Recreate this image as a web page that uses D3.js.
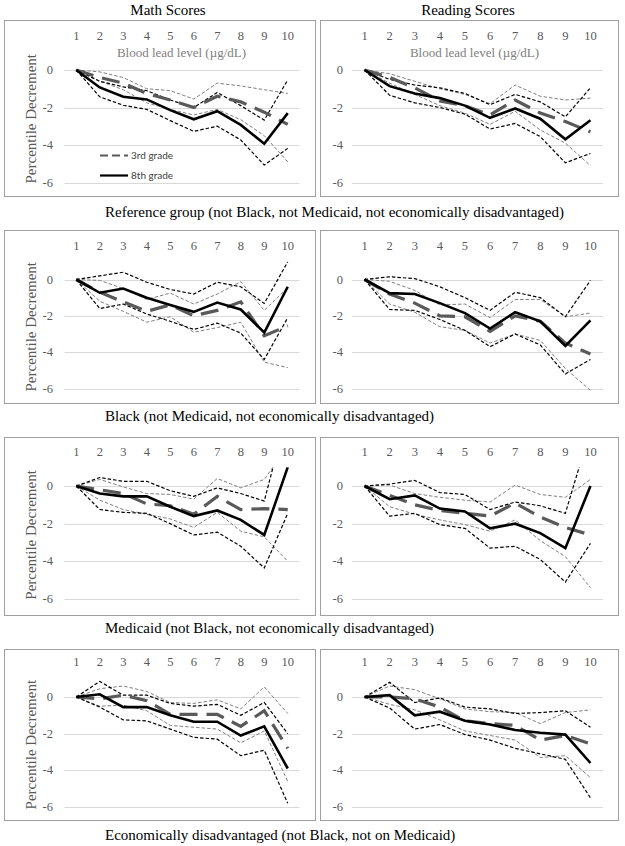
<!DOCTYPE html>
<html>
<head>
<meta charset="utf-8">
<script src="https://cdn.jsdelivr.net/npm/d3@7/dist/d3.min.js"></script>
<style>
  html, body { margin: 0; padding: 0; background: #fff; }
  svg { display: block; }
</style>
</head>
<body>
<svg id="chart" width="625" height="846"></svg>
<script>
// ---------- DATA ----------
const categories = [1, 2, 3, 4, 5, 6, 7, 8, 9, 10];
const yTicks = [0, -2, -4, -6];
const columnTitles = ["Math Scores", "Reading Scores"];
const xAxisTitle = "Blood lead level (\u00b5g/dL)";
const yAxisTitle = "Percentile Decrement";
const legendLabels = ["3rd grade", "8th grade"];
const groupCaptions = [
  "Reference group (not Black, not Medicaid, not economically disadvantaged)",
  "Black (not Medicaid, not economically disadvantaged)",
  "Medicaid (not Black, not economically disadvantaged)",
  "Economically disadvantaged (not Black, not on Medicaid)"
];

// Reference group - Math
const mathRef_g3    = [0, -0.4, -0.7, -1.25, -1.6, -2.0, -1.4, -1.7, -2.25, -2.9];
const mathRef_g3_hi = [0, -0.1, -0.4, -1.0, -1.1, -1.55, -0.7, -0.85, -1.05, -1.25];
const mathRef_g3_lo = [0, -0.6, -1.05, -1.75, -2.1, -2.4, -2.1, -2.65, -3.5, -4.9];
const mathRef_g8    = [0, -0.93, -1.43, -1.57, -2.14, -2.63, -2.2, -2.93, -3.93, -2.3];
const mathRef_g8_hi = [0, -0.6, -0.9, -1.1, -1.6, -2.0, -1.2, -1.9, -2.67, -0.53];
const mathRef_g8_lo = [0, -1.43, -1.88, -2.1, -2.7, -3.27, -3.0, -3.73, -5.07, -4.18];
// Reference group - Reading
const readRef_g3    = [0, -0.4, -0.95, -1.65, -1.9, -2.4, -1.6, -2.3, -2.75, -3.3];
const readRef_g3_hi = [0, -0.2, -0.6, -1.0, -1.3, -1.8, -0.8, -1.4, -1.6, -1.5];
const readRef_g3_lo = [0, -0.7, -1.3, -1.9, -2.3, -2.9, -2.2, -3.2, -3.9, -5.1];
const readRef_g8    = [0, -0.86, -1.25, -1.5, -1.9, -2.55, -2.05, -2.6, -3.7, -2.68];
const readRef_g8_hi = [0, -0.5, -0.8, -0.95, -1.25, -1.85, -1.3, -1.7, -2.5, -0.95];
const readRef_g8_lo = [0, -1.35, -1.75, -2.0, -2.35, -3.15, -2.85, -3.55, -4.95, -4.45];
// Black - Math
const mathBlk_g3    = [0, -0.7, -1.23, -1.75, -1.4, -2.0, -1.7, -1.23, -3.1, -2.55];
const mathBlk_g3_hi = [0, -0.05, -0.5, -1.1, -0.75, -1.35, -0.8, -0.12, -1.7, -0.45];
const mathBlk_g3_lo = [0, -1.2, -1.75, -2.35, -2.05, -2.9, -2.65, -2.35, -4.55, -4.85];
const mathBlk_g8    = [0, -0.73, -0.5, -1.0, -1.4, -1.78, -1.27, -1.65, -2.92, -0.4];
const mathBlk_g8_hi = [0, 0.2, 0.4, -0.15, -0.55, -0.8, -0.15, -0.4, -1.32, 0.97];
const mathBlk_g8_lo = [0, -1.6, -1.35, -1.9, -2.3, -2.75, -2.4, -2.95, -4.4, -2.1];
// Black - Reading
const readBlk_g3    = [0, -0.8, -1.3, -2.0, -2.05, -2.85, -2.0, -2.3, -3.5, -4.1];
const readBlk_g3_hi = [0, -0.1, -0.6, -1.4, -1.35, -2.1, -1.1, -1.1, -2.05, -1.85];
const readBlk_g3_lo = [0, -1.35, -1.8, -2.6, -2.8, -3.5, -3.0, -3.35, -4.9, -6.1];
const readBlk_g8    = [0, -0.75, -0.8, -1.3, -1.85, -2.7, -1.8, -2.3, -3.65, -2.25];
const readBlk_g8_hi = [0, 0.15, 0.05, -0.4, -1.0, -1.7, -0.7, -1.0, -2.05, -0.05];
const readBlk_g8_lo = [0, -1.65, -1.7, -2.2, -2.8, -3.7, -3.0, -3.6, -5.2, -4.4];
// Medicaid - Math
const mathMed_g3    = [0, -0.2, -0.4, -0.95, -1.05, -1.5, -0.55, -1.25, -1.2, -1.25];
const mathMed_g3_hi = [0, 0.35, -0.05, -0.4, -0.45, -0.7, 0.4, -0.1, 0.35, 2.1];
const mathMed_g3_lo = [0, -0.75, -1.25, -1.5, -1.75, -2.2, -1.4, -2.4, -2.7, -4.0];
const mathMed_g8    = [0, -0.4, -0.55, -0.55, -1.1, -1.6, -1.3, -1.8, -2.6, 1.0];
const mathMed_g8_hi = [0, 0.45, 0.25, 0.25, -0.25, -0.55, -0.1, -0.4, -0.8, 4.0];
const mathMed_g8_lo = [0, -1.25, -1.4, -1.45, -2.0, -2.6, -2.45, -3.2, -4.35, -1.45];
// Medicaid - Reading
const readMed_g3    = [0, -0.5, -1.0, -1.3, -1.45, -1.6, -0.9, -1.65, -2.2, -2.6];
const readMed_g3_hi = [0, 0.05, -0.4, -0.6, -0.75, -0.85, 0.05, -0.45, -0.6, 0.35];
const readMed_g3_lo = [0, -1.1, -1.5, -1.8, -2.05, -2.4, -1.8, -2.9, -3.75, -5.4];
const readMed_g8    = [0, -0.7, -0.5, -1.2, -1.35, -2.25, -2.0, -2.5, -3.3, 0.0];
const readMed_g8_hi = [0, 0.1, 0.3, -0.35, -0.45, -1.25, -0.85, -1.05, -1.45, 3.0];
const readMed_g8_lo = [0, -1.6, -1.45, -2.05, -2.25, -3.3, -3.2, -3.9, -5.1, -3.05];
// Economically disadvantaged - Math
const mathEco_g3    = [0, -0.1, 0.1, -0.2, -0.95, -0.95, -0.95, -1.6, -0.75, -2.8];
const mathEco_g3_hi = [0, 0.45, 0.6, 0.3, -0.3, -0.35, -0.15, -0.65, 0.55, -0.9];
const mathEco_g3_lo = [0, -0.5, -0.45, -0.75, -1.55, -1.65, -1.75, -2.5, -1.85, -4.6];
const mathEco_g8    = [0, 0.15, -0.55, -0.55, -1.0, -1.35, -1.35, -2.1, -1.6, -3.9];
const mathEco_g8_hi = [0, 0.85, 0.1, 0.1, -0.35, -0.5, -0.4, -1.0, -0.3, -2.0];
const mathEco_g8_lo = [0, -0.55, -1.25, -1.3, -1.75, -2.2, -2.3, -3.2, -2.9, -5.8];
// Economically disadvantaged - Reading
const readEco_g3    = [0, 0.0, -0.1, -0.55, -1.3, -1.45, -1.55, -2.35, -2.1, -2.55];
const readEco_g3_hi = [0, 0.6, 0.4, -0.1, -0.65, -0.8, -0.85, -1.45, -0.85, -0.7];
const readEco_g3_lo = [0, -0.4, -0.7, -1.25, -1.85, -2.1, -2.35, -3.3, -3.2, -4.4];
const readEco_g8    = [0, 0.1, -1.0, -0.8, -1.3, -1.5, -1.8, -1.95, -2.05, -3.6];
const readEco_g8_hi = [0, 0.8, -0.3, -0.05, -0.55, -0.65, -0.9, -0.85, -0.75, -1.65];
const readEco_g8_lo = [0, -0.6, -1.75, -1.5, -2.05, -2.35, -2.8, -3.1, -3.4, -5.5];

const panelData = [
  [ {g3: mathRef_g3, g3hi: mathRef_g3_hi, g3lo: mathRef_g3_lo, g8: mathRef_g8, g8hi: mathRef_g8_hi, g8lo: mathRef_g8_lo},
    {g3: readRef_g3, g3hi: readRef_g3_hi, g3lo: readRef_g3_lo, g8: readRef_g8, g8hi: readRef_g8_hi, g8lo: readRef_g8_lo} ],
  [ {g3: mathBlk_g3, g3hi: mathBlk_g3_hi, g3lo: mathBlk_g3_lo, g8: mathBlk_g8, g8hi: mathBlk_g8_hi, g8lo: mathBlk_g8_lo},
    {g3: readBlk_g3, g3hi: readBlk_g3_hi, g3lo: readBlk_g3_lo, g8: readBlk_g8, g8hi: readBlk_g8_hi, g8lo: readBlk_g8_lo} ],
  [ {g3: mathMed_g3, g3hi: mathMed_g3_hi, g3lo: mathMed_g3_lo, g8: mathMed_g8, g8hi: mathMed_g8_hi, g8lo: mathMed_g8_lo},
    {g3: readMed_g3, g3hi: readMed_g3_hi, g3lo: readMed_g3_lo, g8: readMed_g8, g8hi: readMed_g8_hi, g8lo: readMed_g8_lo} ],
  [ {g3: mathEco_g3, g3hi: mathEco_g3_hi, g3lo: mathEco_g3_lo, g8: mathEco_g8, g8hi: mathEco_g8_hi, g8lo: mathEco_g8_lo},
    {g3: readEco_g3, g3hi: readEco_g3_hi, g3lo: readEco_g3_lo, g8: readEco_g8, g8hi: readEco_g8_hi, g8lo: readEco_g8_lo} ]
];

// ---------- LAYOUT ----------
const rows = [
  {top: 20,  bottom: 196, tickY: 40,  y0: 70,    y6: 182.5, capY: 217},
  {top: 230, bottom: 403, tickY: 250, y0: 279.5, y6: 388.5, capY: 421},
  {top: 437, bottom: 615, tickY: 456, y0: 486,   y6: 599,   capY: 633},
  {top: 649, bottom: 820, tickY: 666, y0: 697,   y6: 807,   capY: 840}
];
const cols = [
  {boxL: 4,   boxR: 315, plotL: 64.5, plotR: 299.5, yLabX: 53,  titleX: 168},
  {boxL: 320, boxR: 618, plotL: 352,  plotR: 603,   yLabX: 343, titleX: 468}
];
const serif = "'Liberation Serif', 'Times New Roman', serif";
const sans = "Lato, 'Open Sans', sans-serif";

const svg = d3.select("#chart");

// column titles
cols.forEach((c, ci) => {
  svg.append("text")
    .attr("x", c.titleX).attr("y", 15)
    .attr("text-anchor", "middle")
    .attr("font-family", serif).attr("font-size", 15)
    .attr("fill", "#000")
    .text(columnTitles[ci]);
});

rows.forEach((r, ri) => {
  cols.forEach((c, ci) => {
    const d = panelData[ri][ci];
    const g = svg.append("g");
    const x = d3.scalePoint().domain(categories).range([c.plotL, c.plotR]).padding(0.5);
    const y = d3.scaleLinear().domain([0, -6]).range([r.y0, r.y6]);

    // box
    g.append("rect")
      .attr("x", c.boxL + 0.5).attr("y", r.top + 0.5)
      .attr("width", c.boxR - c.boxL).attr("height", r.bottom - r.top)
      .attr("fill", "none").attr("stroke", "#a0a0a0").attr("stroke-width", 1);

    // gridlines
    g.selectAll(".grid").data(yTicks).enter().append("line")
      .attr("x1", c.plotL).attr("x2", c.plotR)
      .attr("y1", v => Math.round(y(v)) + 0.5).attr("y2", v => Math.round(y(v)) + 0.5)
      .attr("stroke", "#d9d9d9").attr("stroke-width", 1);

    // y tick labels
    g.selectAll(".ylab").data(yTicks).enter().append("text")
      .attr("x", c.yLabX).attr("y", v => y(v) + 4)
      .attr("text-anchor", "end")
      .attr("font-family", serif).attr("font-size", 12.5)
      .attr("fill", "#595959")
      .text(v => v);

    // category labels (axis on top)
    g.selectAll(".xlab").data(categories).enter().append("text")
      .attr("x", v => x(v)).attr("y", r.tickY)
      .attr("text-anchor", "middle")
      .attr("font-family", serif).attr("font-size", 12.5)
      .attr("fill", "#595959")
      .text(v => v);

    if (ri === 0) {
      g.append("text")
        .attr("x", (c.plotL + c.plotR) / 2 + (ci === 0 ? -0.5 : -3)).attr("y", 57)
        .attr("text-anchor", "middle")
        .attr("font-family", serif).attr("font-size", 13)
        .attr("fill", "#808080")
        .text(xAxisTitle);
    }

    if (ci === 0) {
      const cy = y(-2.6);
      g.append("text")
        .attr("transform", `translate(36,${cy}) rotate(-90)`)
        .attr("text-anchor", "middle")
        .attr("font-family", serif).attr("font-size", 15)
        .attr("fill", "#595959")
        .text(yAxisTitle);
    }

    // clip
    const clipId = `clip-${ri}-${ci}`;
    svg.append("clipPath").attr("id", clipId).append("rect")
      .attr("x", c.plotL).attr("y", y(1))
      .attr("width", c.plotR - c.plotL).attr("height", y(-6.6) - y(1));

    const line = d3.line().x((v, i) => x(categories[i])).y(v => y(v));
    const lg = g.append("g").attr("clip-path", `url(#${clipId})`);

    const series = [
      {vals: d.g3hi, stroke: "#7f7f7f", w: 1, dash: "3.5,2"},
      {vals: d.g3lo, stroke: "#7f7f7f", w: 1, dash: "3.5,2"},
      {vals: d.g8hi, stroke: "#000", w: 1.2, dash: "3.5,2"},
      {vals: d.g8lo, stroke: "#000", w: 1.2, dash: "3.5,2"},
      {vals: d.g3, stroke: "#595959", w: 3.2, dash: "18,9"},
      {vals: d.g8, stroke: "#000", w: 2.6, dash: null}
    ];
    series.forEach(s => {
      lg.append("path")
        .attr("d", line(s.vals))
        .attr("fill", "none")
        .attr("stroke", s.stroke)
        .attr("stroke-width", s.w)
        .attr("stroke-linejoin", "miter")
        .attr("stroke-dasharray", s.dash);
    });

    // legend in first panel
    if (ri === 0 && ci === 0) {
      const leg = [
        {label: legendLabels[0], y: 155.5, stroke: "#595959", w: 2.2, dash: "8,4"},
        {label: legendLabels[1], y: 175.5, stroke: "#000", w: 2.2, dash: null}
      ];
      leg.forEach(l => {
        g.append("line")
          .attr("x1", 100).attr("x2", 128)
          .attr("y1", l.y).attr("y2", l.y)
          .attr("stroke", l.stroke).attr("stroke-width", l.w)
          .attr("stroke-dasharray", l.dash);
        g.append("text")
          .attr("x", 131).attr("y", l.y + 3.5)
          .attr("font-family", sans).attr("font-size", 10)
          .attr("fill", "#404040")
          .text(l.label);
      });
    }
  });

  // group caption
  svg.append("text")
    .attr("x", 105).attr("y", r.capY)
    .attr("font-family", serif).attr("font-size", 15)
    .attr("fill", "#000")
    .text(groupCaptions[ri]);
});
</script>
</body>
</html>
